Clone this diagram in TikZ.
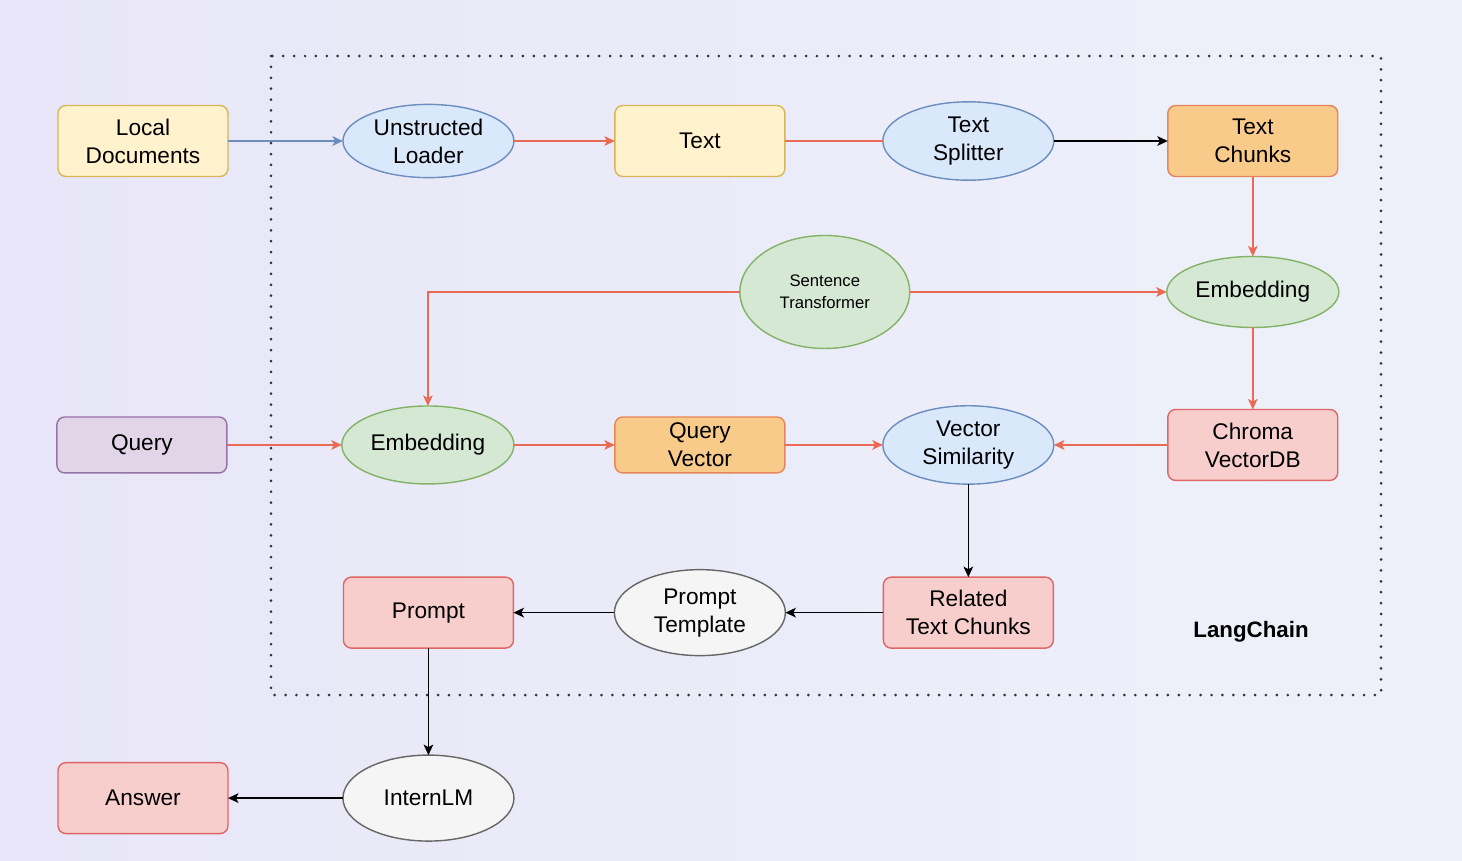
\documentclass[tikz,border=0pt]{standalone}
\usepackage{fontspec}
\setmainfont{Liberation Sans}
\usepackage{tikz}
\usetikzlibrary{
        arrows.meta,
        positioning,
        shapes.geometric
    }
\definecolor{yfill}{HTML}{FFF2CC}
\definecolor{yline}{HTML}{D6B656}
\definecolor{bfill}{HTML}{DAE8FC}
\definecolor{bline}{HTML}{6C8EBF}
\definecolor{gfill}{HTML}{D5E8D4}
\definecolor{gline}{HTML}{82B366}
\definecolor{ofill}{HTML}{F9CB8B}
\definecolor{oline}{HTML}{E8845A}
\definecolor{rfill}{HTML}{F8CECC}
\definecolor{rline}{HTML}{E06666}
\definecolor{pfill}{HTML}{E1D5E7}
\definecolor{pline}{HTML}{9673A6}
\definecolor{wfill}{HTML}{F5F5F5}
\definecolor{wline}{HTML}{666666}
\definecolor{arrred}{HTML}{EA6B55}
\definecolor{bgleft}{HTML}{E8E6F8}
\definecolor{bgmid}{HTML}{F3F4FB}
\definecolor{bgright}{HTML}{EEF1F9}
\tikzset{>={Stealth[length=6pt,width=5.5pt,inset=1.5pt]},auto,node distance=2cm}
\tikzset{
    base/.style={draw,line width=0.8pt,align=center,inner sep=2pt,outer sep=0pt,
        font=\fontsize{12.9}{16}\selectfont},
    box/.style={base,rectangle,rounded corners=4.5pt,minimum width=3.4cm,minimum height=1.42cm},
    oval/.style={base,ellipse,minimum width=3.42cm,minimum height=1.42cm},
    docbox/.style={box,fill=yfill,draw=yline},
    chunkbox/.style={box,fill=ofill,draw=oline},
    dbbox/.style={box,fill=rfill,draw=rline},
    querybox/.style={box,fill=pfill,draw=pline,minimum height=1.12cm},
    tooloval/.style={oval,fill=bfill,draw=bline},
    embedoval/.style={oval,fill=gfill,draw=gline},
    llmoval/.style={oval,fill=wfill,draw=wline,minimum height=1.72cm},
    redline/.style={draw=arrred,line width=0.8pt},
    blueline/.style={draw=bline,line width=0.8pt},
    blackline/.style={draw=black,line width=0.8pt}
}

\begin{document}
\begin{tikzpicture}[x=0.02cm,y=-0.02cm]
                \useasboundingbox (0,0) rectangle (1462,860);
                \shade[left color=bgleft,middle color=bgmid,right color=bgright] (0,0) rectangle (1462,860);
                % langchain frame
                \draw[black!80,line width=1.7pt,dash pattern=on 0pt off 6.2pt,line cap=round]
                    (271,56) rectangle (1381,695);
                \node[docbox] (ld) at (143,141) {Local\\Documents};
                \node[tooloval] (ul) [right=2.3cm of ld] {Unstructed\\Loader};
                \node[docbox] (txt) [right=2.02cm of ul] {Text};
                \node[tooloval] (ts) [right=1.96cm of txt] {Text\\Splitter};
                \node[chunkbox] (tc) [right=2.28cm of ts] {Text\\Chunks};
                \node[embedoval] (er) [below=1.6cm of tc] {Embedding};
                \node[embedoval,minimum width=3.4cm,minimum height=2.26cm,
                    font=\fontsize{9.5}{12.5}\selectfont] (st) [left=5.14cm of er] {Sentence\\Transformer};
                \node[dbbox] (cv) [below=1.64cm of er] {Chroma\\VectorDB};
                \node[tooloval,minimum height=1.56cm] (vs) [left=2.28cm of cv] {Vector\\Similarity};
                \node[chunkbox,minimum height=1.12cm] (qv) [left=1.96cm of vs] {Query\\Vector};
                \node[embedoval,minimum height=1.56cm] (el) [left=2.02cm of qv] {Embedding};
                \node[querybox] (q) [left=2.3cm of el] {Query};
                \node[dbbox] (rc) [below=1.86cm of vs] {Related\\Text Chunks};
                \node[llmoval] (pt) [left=1.96cm of rc] {Prompt\\Template};
                \node[dbbox] (p) [left=2.02cm of pt] {Prompt};
                \node[llmoval] (il) [below=2.14cm of p] {InternLM};
                \node[dbbox] (a) [left=2.3cm of il] {Answer};
                \node[font=\bfseries\fontsize{12.7}{15}\selectfont] (lc) at (1251,632) {LangChain};
                \path[->]
                    (ld)  edge [blueline] (ul)
                    (ul)  edge [redline] (txt)
                    (ts)  edge [blackline] (tc)
                    (tc)  edge [redline] (er)
                    (st)  edge [redline] (er)
                    (er)  edge [redline] (cv)
                    (q)   edge [redline] (el)
                    (el)  edge [redline] (qv)
                    (qv)  edge [redline] (vs)
                    (cv)  edge [redline] (vs)
                    (vs)  edge [blackline] (rc)
                    (rc)  edge [blackline] (pt)
                    (pt)  edge [blackline] (p)
                    (p)   edge [blackline] (il)
                    (il)  edge [blackline] (a);
                \path[redline] (txt) -- (ts);
                \draw[->,redline] (st.west) -| (el.north);
            \end{tikzpicture}
\end{document}
